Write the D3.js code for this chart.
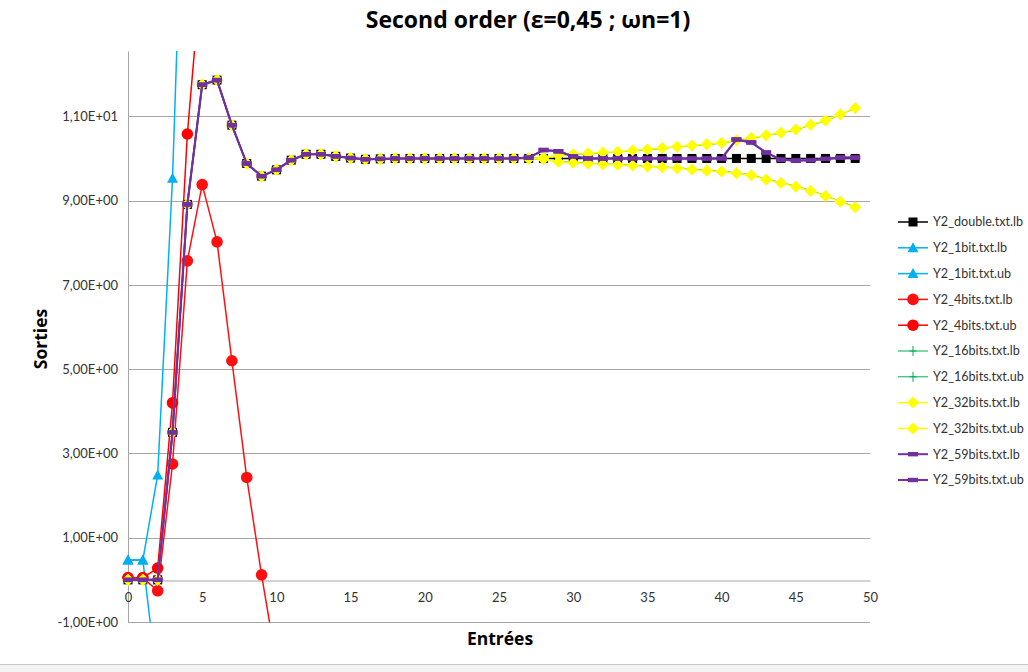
<!DOCTYPE html>
<html><head><meta charset="utf-8">
<script src="https://cdn.jsdelivr.net/npm/d3@7"></script>
<style>
html,body{margin:0;padding:0;background:#fff;}
svg{display:block;font-family:Lato,"Liberation Sans",sans-serif;}
</style></head>
<body><svg id="chart" width="1028" height="672"></svg>
<script>
// ---------- data ----------
const xValues = d3.range(0, 50);
const xTicks = [0, 5, 10, 15, 20, 25, 30, 35, 40, 45, 50];
const yTicks = [-1, 1, 3, 5, 7, 9, 11];
const yTickLabels = ["-1,00E+00", "1,00E+00", "3,00E+00", "5,00E+00", "7,00E+00", "9,00E+00", "1,10E+01"];

const y2Double = [0,0,0,3.5,8.91,11.75,11.86,10.79,9.88,9.58,9.73,9.96,10.1,10.1,10.05,10.01,9.98,9.99,
  10,10,10,10,10,10,10,10,10,10,10,10,10,10,10,10,10,10,10,10,10,10,10,10,10,10,10,10,10,10,10,10];
const y2_1bitLb = [0.47,0.47,-2.5,-9.5];
const y2_1bitUb = [0.47,0.47,2.49,9.53,20.1];
const y2_4bitsLb = [0.05,0.05,-0.26,2.75,7.57,9.38,8.02,5.2,2.43,0.12,-1.97];
const y2_4bitsUb = [0.05,0.05,0.28,4.2,10.58,14.7];
const y2_16bitsLb = [0,0,0,3.5,8.91,11.75,11.86,10.79,9.88,9.58,9.73,9.96,10.1,10.1,10.05,10.01,9.98,9.99,
  10,10,10,10,10,10,10,10,10,10,9.97,9.93,9.91,9.89,9.87,9.86,9.84,9.82,9.8,9.78,9.75,9.72,9.7,9.66,9.61,9.51,9.43,9.34,9.24,9.12,8.98,8.85];
const y2_16bitsUb = [0,0,0,3.5,8.91,11.75,11.86,10.79,9.88,9.58,9.73,9.96,10.1,10.1,10.05,10.01,9.98,9.99,
  10,10,10,10,10,10,10,10,10,10,10.03,10.06,10.09,10.11,10.13,10.15,10.18,10.2,10.24,10.27,10.3,10.33,10.36,10.42,10.48,10.54,10.6,10.68,10.79,10.89,11.04,11.19];
const y2_32bitsLb = [0,0,0,3.5,8.91,11.75,11.86,10.79,9.88,9.58,9.73,9.96,10.1,10.1,10.05,10.01,9.98,9.99,
  10,10,10,10,10,10,10,10,10,10,9.98,9.92,9.9,9.88,9.86,9.85,9.83,9.81,9.79,9.77,9.74,9.71,9.69,9.65,9.6,9.5,9.42,9.33,9.23,9.11,8.97,8.84];
const y2_32bitsUb = [0,0,0,3.5,8.91,11.75,11.86,10.79,9.88,9.58,9.73,9.96,10.1,10.1,10.05,10.01,9.98,9.99,
  10,10,10,10,10,10,10,10,10,10,10.02,10.07,10.1,10.12,10.14,10.16,10.19,10.21,10.25,10.28,10.31,10.34,10.37,10.43,10.49,10.55,10.61,10.69,10.8,10.9,11.05,11.2];
const y2_59bitsLb = [0,0,0,3.5,8.91,11.75,11.86,10.79,9.88,9.58,9.73,9.96,10.1,10.1,10.05,10.01,9.98,9.99,
  10,10,10,10,10,10,10,10,10,10.02,10.2,10.17,10.05,10,10,10,10,10,10,10,10,10,10,10.45,10.38,10.14,9.97,9.95,9.96,9.99,10.02,10.02];
const y2_59bitsUb = [0,0,0,3.5,8.91,11.75,11.86,10.79,9.88,9.58,9.73,9.96,10.1,10.1,10.05,10.01,9.98,9.99,
  10,10,10,10,10,10,10,10,10,10.02,10.2,10.17,10.05,10,10,10,10,10,10,10,10,10,10,10.45,10.38,10.14,9.97,9.95,9.96,9.99,10.02,10.02];

const seriesNames = ["Y2_double.txt.lb","Y2_1bit.txt.lb","Y2_1bit.txt.ub","Y2_4bits.txt.lb","Y2_4bits.txt.ub",
  "Y2_16bits.txt.lb","Y2_16bits.txt.ub","Y2_32bits.txt.lb","Y2_32bits.txt.ub","Y2_59bits.txt.lb","Y2_59bits.txt.ub"];
const seriesValues = [y2Double,y2_1bitLb,y2_1bitUb,y2_4bitsLb,y2_4bitsUb,y2_16bitsLb,y2_16bitsUb,y2_32bitsLb,y2_32bitsUb,y2_59bitsLb,y2_59bitsUb];

// ---------- styles ----------
const styles = [
  {color:"#000000", width:1.5, marker:"square"},
  {color:"#00B0F0", width:1.5, marker:"triangle"},
  {color:"#00B0F0", width:1.5, marker:"triangle"},
  {color:"#FF1010", width:1.5, marker:"circle"},
  {color:"#FF0000", width:1.5, marker:"circle"},
  {color:"#00B050", width:1, marker:"plus"},
  {color:"#00B050", width:1, marker:"plus"},
  {color:"#FFFF00", width:1.5, marker:"diamond"},
  {color:"#FFFF00", width:1.5, marker:"diamond"},
  {color:"#7030A0", width:2, marker:"dash"},
  {color:"#7030A0", width:2, marker:"dash"}
];

const svg = d3.select("#chart");
const x = d3.scaleLinear().domain([0, 50]).range([128, 870]);
const y = d3.scaleLinear().domain([-1, 12.55]).range([622, 51]);

// bottom frame
svg.append("rect").attr("x",0).attr("y",664).attr("width",1028).attr("height",8).attr("fill","#f3f3f3");
svg.append("line").attr("x1",0).attr("x2",1028).attr("y1",664.5).attr("y2",664.5).attr("stroke","#c8c8c8");

// gridlines
svg.append("g").selectAll("line").data(yTicks).join("line")
  .attr("x1", x(0)).attr("x2", x(50))
  .attr("y1", d => Math.round(y(d)) + 0.5).attr("y2", d => Math.round(y(d)) + 0.5)
  .attr("stroke", "#a6a6a6").attr("stroke-width", 1);

// y axis
const yAxis = d3.axisLeft(y).tickValues(yTicks).tickSize(0).tickPadding(10)
  .tickFormat((d, i) => yTickLabels[i]);
const gy = svg.append("g").attr("transform", `translate(${x(0)},0)`).call(yAxis);
gy.select(".domain").attr("stroke", "#a6a6a6");
gy.selectAll("text").attr("font-family", "Lato, sans-serif").attr("font-size", 13).attr("fill", "#333");

// x axis at y=0
const xAxis = d3.axisBottom(x).tickValues(xTicks).tickSize(0).tickPadding(12).tickFormat(d3.format("d"));
const gx = svg.append("g").attr("transform", `translate(0,${Math.round(y(0)) + 0.5})`).call(xAxis);
gx.select(".domain").attr("stroke", "#a6a6a6");
gx.selectAll("text").attr("font-family", "Lato, sans-serif").attr("font-size", 13).attr("fill", "#333");

// clip
svg.append("defs").append("clipPath").attr("id", "plotclip")
  .append("rect").attr("x", 100).attr("y", 51).attr("width", 800).attr("height", 571.5);

function drawMarker(g, type, color) {
  if (type === "square") {
    g.append("rect").attr("x",-4.5).attr("y",-4.5).attr("width",9).attr("height",9).attr("fill",color);
  } else if (type === "triangle") {
    g.append("path").attr("d","M0,-5.5L5.5,4.5L-5.5,4.5Z").attr("fill",color);
  } else if (type === "circle") {
    g.append("circle").attr("r",5.8).attr("fill",color);
  } else if (type === "plus") {
    g.append("path").attr("d","M-3.5,0H3.5M0,-5V5").attr("stroke",color).attr("stroke-width",1).attr("fill","none");
  } else if (type === "diamond") {
    g.append("path").attr("d","M0,-6L6,0L0,6L-6,0Z").attr("fill",color);
  } else if (type === "dash") {
    g.append("rect").attr("x",-5).attr("y",-2.2).attr("width",10).attr("height",4.4).attr("fill",color);
  }
}

const plot = svg.append("g").attr("clip-path", "url(#plotclip)");
const line = d3.line().x((d, i) => x(xValues[i])).y(d => y(d));

seriesValues.forEach((vals, si) => {
  const st = styles[si];
  const g = plot.append("g");
  g.append("path").datum(vals).attr("d", line).attr("fill", "none")
    .attr("stroke", st.color).attr("stroke-width", st.width).attr("stroke-linejoin", "round");
  vals.forEach((v, i) => {
    if (v < -1.2 || v > 12.7) return;
    const mg = g.append("g").attr("transform", `translate(${x(xValues[i])},${y(v)})`);
    drawMarker(mg, st.marker, st.color);
  });
});

// legend
const legendY0 = 222, legendStep = 25.8;
const lg = svg.append("g");
seriesNames.forEach((name, i) => {
  const st = styles[i];
  const yy = legendY0 + i * legendStep;
  lg.append("line").attr("x1", 898).attr("x2", 928).attr("y1", yy).attr("y2", yy)
    .attr("stroke", st.color).attr("stroke-width", st.width);
  drawMarker(lg.append("g").attr("transform", `translate(913,${yy})`), st.marker, st.color);
  lg.append("text").attr("x", 933).attr("y", yy).attr("dy", "0.35em")
    .attr("font-family", "Lato, sans-serif").attr("font-size", 12.6).attr("fill", "#333").text(name);
});

// titles
svg.append("text").attr("x", 528).attr("y", 28).attr("text-anchor", "middle")
  .attr("font-family", "'Open Sans', sans-serif").attr("font-weight", "bold").attr("font-size", 23)
  .attr("fill", "#000").text("Second order (ε=0,45 ; ωn=1)");
svg.append("text").attr("transform", "translate(47,339) rotate(-90)").attr("text-anchor", "middle")
  .attr("font-family", "'Open Sans', sans-serif").attr("font-weight", "bold").attr("font-size", 17.5)
  .attr("fill", "#000").text("Sorties");
svg.append("text").attr("x", 500).attr("y", 645).attr("text-anchor", "middle")
  .attr("font-family", "'Open Sans', sans-serif").attr("font-weight", "bold").attr("font-size", 17.5)
  .attr("fill", "#000").text("Entrées");
</script></body></html>
